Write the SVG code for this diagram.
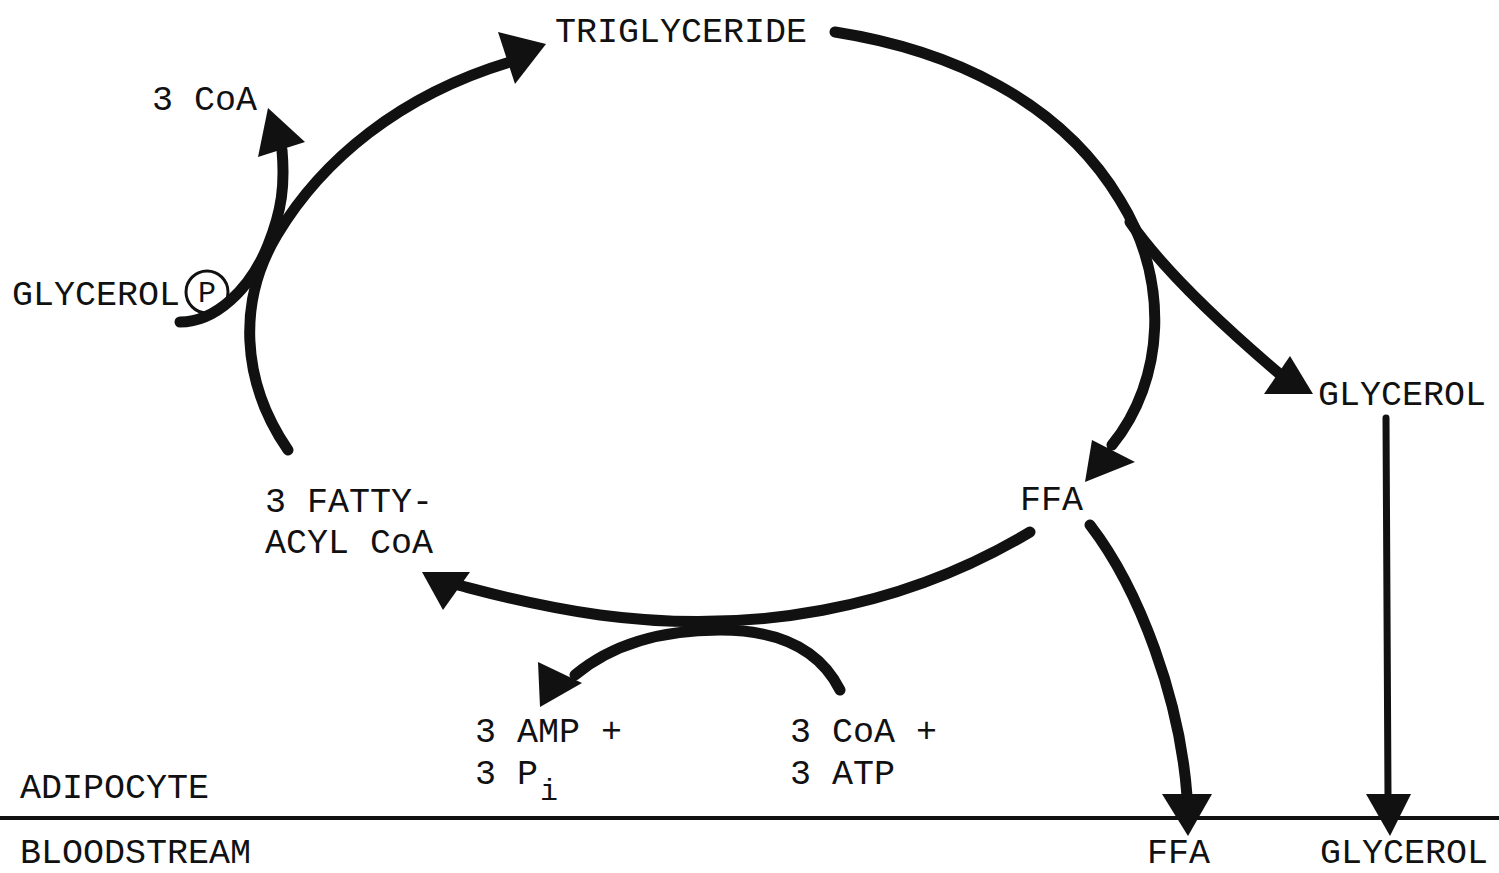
<svg xmlns="http://www.w3.org/2000/svg" width="1499" height="873" viewBox="0 0 1499 873">
<style>
text{font-family:"Liberation Mono","DejaVu Sans Mono",monospace;font-size:35px;fill:#111}
.c{fill:none;stroke:#111;stroke-width:11;stroke-linecap:round}
.h{fill:#111;stroke:none}
</style>
<rect width="1499" height="873" fill="#fff"/>
<g id="connectors">
<path class="c" d="M288,450 C240,380 238,300 277,235 C322,160 400,95 510,62"/>
<polygon class="h" points="498,32 546,44 515,84"/>
<path class="c" d="M180,322 C215,322 250,290 268,245 C282,210 285,185 282,150"/>
<polygon class="h" points="268,108 305,142 258,157"/>
<path class="c" d="M835,32 C950,50 1060,100 1120,200 C1170,280 1165,380 1112,445"/>
<polygon class="h" points="1085,482 1092,440 1135,462"/>
<path class="c" d="M1130,222 C1160,265 1210,315 1282,376"/>
<polygon class="h" points="1264,394 1290,356 1313,394"/>
<path class="c" style="stroke-width:7" d="M1386,418 L1388,798"/>
<polygon class="h" points="1366,794 1411,794 1390,836"/>
<path class="c" d="M1090,525 C1140,590 1180,700 1187,796"/>
<polygon class="h" points="1162,794 1212,794 1188,836"/>
<path class="c" d="M1030,532 C900,610 750,635 600,615 C530,605 485,592 458,585"/>
<polygon class="h" points="422,572 470,572 443,610"/>
<path class="c" d="M840,690 C820,650 780,630 720,630 C650,630 605,650 575,675"/>
<polygon class="h" points="538,662 582,683 540,707"/>
<line x1="0" y1="818" x2="1499" y2="818" stroke="#111" stroke-width="4"/>
</g>
<g id="triglyceride"><text x="555" y="42">TRIGLYCERIDE</text></g>
<g id="coa-out"><text x="152" y="110">3 CoA</text></g>
<g id="glycerol-p"><text x="12" y="305">GLYCEROL</text><circle cx="207" cy="292" r="21" fill="none" stroke="#111" stroke-width="3"/><text x="207" y="302" text-anchor="middle" style="font-size:30px">P</text></g>
<g id="glycerol-cell"><text x="1318" y="405">GLYCEROL</text></g>
<g id="fatty-acyl-coa"><text x="265" y="512">3 FATTY-</text><text x="265" y="553">ACYL CoA</text></g>
<g id="ffa-cell"><text x="1020" y="510">FFA</text></g>
<g id="amp-pi"><text x="475" y="742">3 AMP +</text><text x="475" y="784">3 P</text><text x="540" y="800" style="font-size:30px">i</text></g>
<g id="coa-atp"><text x="790" y="742">3 CoA +</text><text x="790" y="784">3 ATP</text></g>
<g id="adipocyte"><text x="20" y="798">ADIPOCYTE</text></g>
<g id="bloodstream"><text x="20" y="863">BLOODSTREAM</text></g>
<g id="ffa-blood"><text x="1147" y="863">FFA</text></g>
<g id="glycerol-blood"><text x="1320" y="863">GLYCEROL</text></g>
</svg>
